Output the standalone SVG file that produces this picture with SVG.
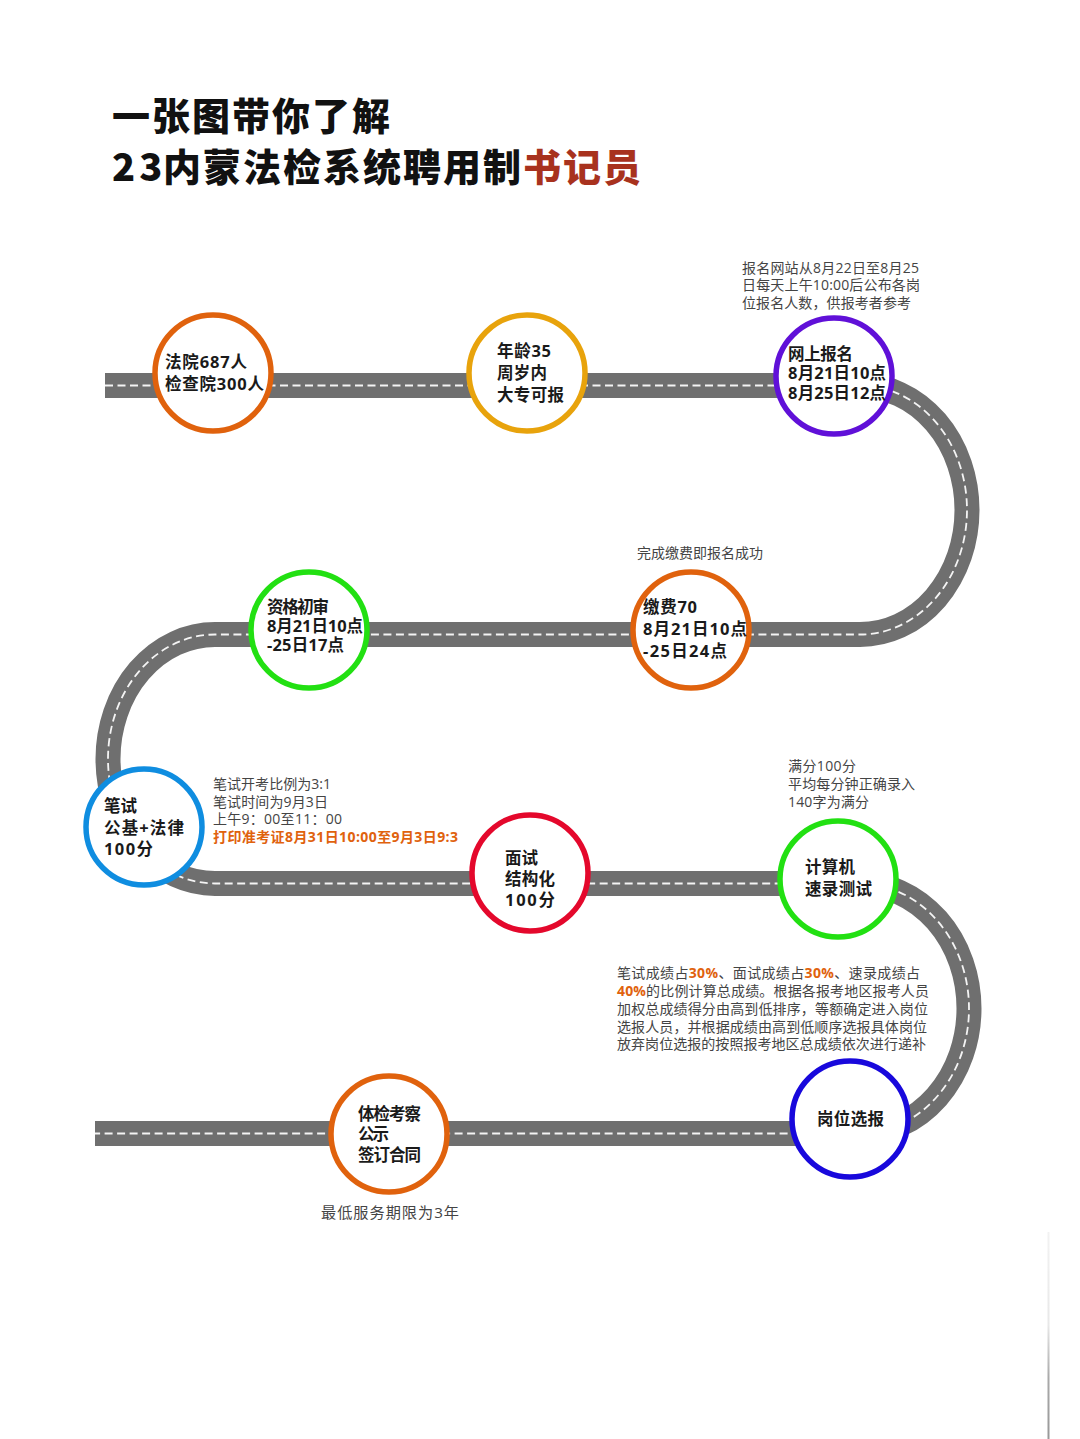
<svg xmlns="http://www.w3.org/2000/svg" width="1080" height="1439" viewBox="0 0 1080 1439">
<style>
text{font-family:"Open Sans","Noto Sans CJK SC",sans-serif}
.title{font-family:"Noto Sans CJK SC",sans-serif;font-size:38px;font-weight:900;fill:#111;letter-spacing:2px}
.n{font-size:16.500px;font-weight:700;fill:#1a1a1a}
.s{font-size:14px;fill:#444}
.o{fill:#e0620d;font-weight:700}
.c{fill:#fff;stroke-width:5.500}
.road{fill:none;stroke:#6f6f6f;stroke-width:25}
.dash{fill:none;stroke:#f4f4f4;stroke-width:1.800;stroke-dasharray:8 4.500}
</style>
<defs><linearGradient id="edge" x1="0" y1="0" x2="0" y2="1"><stop offset="0" stop-color="#f2f2f2"/><stop offset=".45" stop-color="#e8e8e8"/><stop offset=".7" stop-color="#aaa"/><stop offset="1" stop-color="#999"/></linearGradient></defs>
<rect width="1080" height="1439" fill="#fff"/>
<rect x="1047.500" y="1232" width="2" height="207" fill="url(#edge)"/>
<g id="title">
<text class="title" x="112" y="130">一张图带你了解</text>
<text class="title" x="112" y="181"><tspan letter-spacing="4">23</tspan><tspan x="163">内蒙法检系统聘用制</tspan><tspan fill="#a8321e">书记员</tspan></text>
</g>
<g id="connectors">
<path id="road" class="road" d="M105 385.500H860A107 124.500 0 0 1 860 634.500H215A107 124.500 0 0 0 215 883.500H859A110 125 0 0 1 859 1133.500H95"/>
<path id="road-centre" class="dash" d="M105 385.500H860A107 124.500 0 0 1 860 634.500H215A107 124.500 0 0 0 215 883.500H859A110 125 0 0 1 859 1133.500H95"/>
</g>
<g id="node-court"><circle class="c" stroke="#e0620d" cx="213" cy="373" r="58"/><text class="n" x="165" y="368" textLength="82">法院687人</text><text class="n" x="165" y="390" textLength="99">检查院300人</text></g>
<g id="node-age"><circle class="c" stroke="#e8a30c" cx="527" cy="373" r="58"/><text class="n" x="497" y="357" textLength="54">年龄35</text><text class="n" x="497" y="379" textLength="50">周岁内</text><text class="n" x="497" y="401" textLength="67">大专可报</text></g>
<g id="node-register"><circle class="c" stroke="#6010d8" cx="834" cy="376" r="58"/><text class="n" x="788" y="360" textLength="65">网上报名</text><text class="n" x="788" y="379" textLength="98">8月21日10点</text><text class="n" x="788" y="399" textLength="98">8月25日12点</text>
<text class="s" x="742" y="273" textLength="177">报名网站从8月22日至8月25</text><text class="s" x="742" y="290" textLength="178">日每天上午10:00后公布各岗</text><text class="s" x="742" y="308" textLength="169">位报名人数，供报考者参考</text></g>
<g id="node-pay"><circle class="c" stroke="#e0620d" cx="691" cy="630" r="58"/><text class="n" x="643" y="613" textLength="54">缴费70</text><text class="n" x="643" y="635" textLength="104">8月21日10点</text><text class="n" x="643" y="657" textLength="84">-25日24点</text>
<text class="s" x="637" y="558" textLength="126">完成缴费即报名成功</text></g>
<g id="node-review"><circle class="c" stroke="#22e012" cx="309" cy="630" r="58"/><text class="n" x="267" y="613" textLength="62">资格初审</text><text class="n" x="267" y="632" textLength="96">8月21日10点</text><text class="n" x="267" y="651" textLength="77">-25日17点</text></g>
<g id="node-written"><circle class="c" stroke="#0f8de0" cx="144" cy="827" r="58"/><text class="n" x="104" y="812" textLength="33">笔试</text><text class="n" x="104" y="834" textLength="80">公基+法律</text><text class="n" x="104" y="855" textLength="49">100分</text>
<text class="s" x="213" y="789" textLength="118">笔试开考比例为3:1</text><text class="s" x="213" y="807" textLength="115">笔试时间为9月3日</text><text class="s" x="213" y="824" textLength="129">上午9：00至11：00</text><text class="s o" x="213" y="842" textLength="245">打印准考证8月31日10:00至9月3日9:3</text></g>
<g id="node-interview"><circle class="c" stroke="#e4082c" cx="530" cy="873" r="58"/><text class="n" x="505" y="864" textLength="33">面试</text><text class="n" x="505" y="885" textLength="50">结构化</text><text class="n" x="505" y="906" textLength="50">100分</text></g>
<g id="node-typing"><circle class="c" stroke="#22e012" cx="838" cy="879" r="58"/><text class="n" x="805" y="873" textLength="50">计算机</text><text class="n" x="805" y="895" textLength="67">速录测试</text>
<text class="s" x="788" y="771" textLength="68">满分100分</text><text class="s" x="788" y="789" textLength="127">平均每分钟正确录入</text><text class="s" x="788" y="807" textLength="81">140字为满分</text></g>
<g id="node-select"><circle class="c" stroke="#1808dc" cx="850" cy="1119" r="58"/><text class="n" x="817" y="1125" textLength="67">岗位选报</text>
<text class="s" x="617" y="978" textLength="303">笔试成绩占<tspan class="o">30%</tspan>、面试成绩占<tspan class="o">30%</tspan>、速录成绩占</text><text class="s" x="617" y="996" textLength="312"><tspan class="o">40%</tspan>的比例计算总成绩。根据各报考地区报考人员</text><text class="s" x="617" y="1014" textLength="311">加权总成绩得分由高到低排序，等额确定进入岗位</text><text class="s" x="617" y="1032" textLength="310">选报人员，并根据成绩由高到低顺序选报具体岗位</text><text class="s" x="617" y="1049" textLength="309">放弃岗位选报的按照报考地区总成绩依次进行递补</text></g>
<g id="node-final"><circle class="c" stroke="#e0620d" cx="389" cy="1134" r="58"/><text class="n" x="358" y="1120" textLength="63">体检考察</text><text class="n" x="358" y="1140" textLength="31">公示</text><text class="n" x="358" y="1161" textLength="63">签订合同</text>
<text class="s" x="321" y="1218" style="font-size:15.200px" textLength="138">最低服务期限为3年</text></g>
</svg>
